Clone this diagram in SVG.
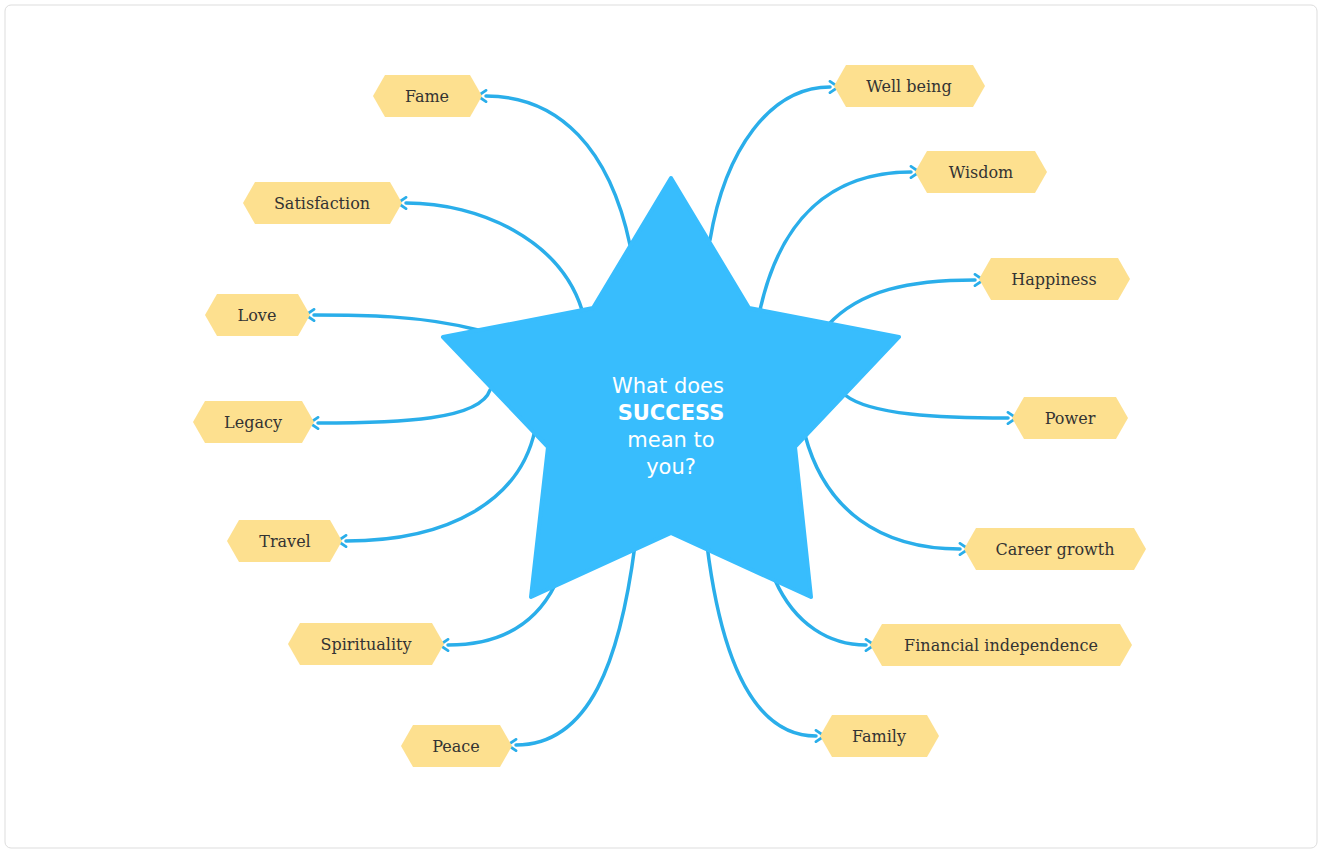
<svg xmlns="http://www.w3.org/2000/svg" width="1322" height="853" viewBox="0 0 1322 853">
<style>
.c{fill:none;stroke:#2AAEEA;stroke-width:3.5;stroke-linecap:round;marker-end:url(#a)}
.h{fill:#FDE08F}
.t{font-family:"DejaVu Serif","Liberation Serif",serif;font-size:16px;fill:#333;text-anchor:middle;dominant-baseline:central}
.s{font-family:"DejaVu Sans","Liberation Sans",sans-serif;font-size:21px;fill:#fff;text-anchor:middle}
</style>
<defs><marker id="a" viewBox="0 0 10 10" refX="2" refY="5" markerWidth="4" markerHeight="4" orient="auto-start-reverse" markerUnits="strokeWidth"><path d="M8,1 L2,5 L8,9" fill="none" stroke="#2AAEEA" stroke-width="2" stroke-linecap="round" transform="rotate(180 5 5)"/></marker></defs>
<rect x="5" y="5" width="1312" height="843" rx="6" fill="#fff" stroke="#ddd"/>
<g id="connectors">
<path class="c" d="M630,245 C610,150 560,96 486,96"/>
<path class="c" d="M582,310 C560,240 480,203 406,203"/>
<path class="c" d="M478,330 C420,315 360,315 314,315"/>
<path class="c" d="M490,390 C480,420 400,423 318,423"/>
<path class="c" d="M535,430 C520,500 450,541 346,541"/>
<path class="c" d="M555,585 C535,625 500,645 448,645"/>
<path class="c" d="M635,545 C620,660 590,745 516,745"/>
<path class="c" d="M710,240 C725,150 770,87 830,87"/>
<path class="c" d="M760,310 C780,220 830,172 911,172"/>
<path class="c" d="M828,325 C860,290 910,280 975,280"/>
<path class="c" d="M845,395 C870,415 940,418 1008,418"/>
<path class="c" d="M805,435 C825,510 880,549 960,549"/>
<path class="c" d="M775,580 C795,625 830,645 866,645"/>
<path class="c" d="M707,545 C720,650 750,736 816,736"/>
</g>
<g id="star">
<path d="M671,178 L749,308 L899,337 L795,447 L811,597 L671,533 L531,597 L548,447 L443,337 L593,308 Z" fill="#38BDFD" stroke="#38BDFD" stroke-width="4" stroke-linejoin="round"/>
<text class="s" x="668" y="393">What does</text>
<text class="s" x="671" y="420" font-weight="bold" fill="#FFEB5C">SUCCESS</text>
<text class="s" x="671" y="447">mean to</text>
<text class="s" x="671" y="474">you?</text>
</g>
<g id="fame"><polygon class="h" points="385,75 470,75 482,96 470,117 385,117 373,96"/><text class="t" x="427" y="96">Fame</text></g>
<g id="satisfaction"><polygon class="h" points="255,182 390,182 402,203 390,224 255,224 243,203"/><text class="t" x="322" y="203">Satisfaction</text></g>
<g id="love"><polygon class="h" points="217,294 298,294 310,315 298,336 217,336 205,315"/><text class="t" x="257" y="315">Love</text></g>
<g id="legacy"><polygon class="h" points="205,401 302,401 314,422 302,443 205,443 193,422"/><text class="t" x="253" y="422">Legacy</text></g>
<g id="travel"><polygon class="h" points="239,520 330,520 342,541 330,562 239,562 227,541"/><text class="t" x="285" y="541">Travel</text></g>
<g id="spirituality"><polygon class="h" points="300,623 432,623 444,644 432,665 300,665 288,644"/><text class="t" x="366" y="644">Spirituality</text></g>
<g id="peace"><polygon class="h" points="413,725 500,725 512,746 500,767 413,767 401,746"/><text class="t" x="456" y="746">Peace</text></g>
<g id="wellbeing"><polygon class="h" points="846,65 973,65 985,86 973,107 846,107 834,86"/><text class="t" x="909" y="86">Well being</text></g>
<g id="wisdom"><polygon class="h" points="927,151 1035,151 1047,172 1035,193 927,193 915,172"/><text class="t" x="981" y="172">Wisdom</text></g>
<g id="happiness"><polygon class="h" points="991,258 1118,258 1130,279 1118,300 991,300 979,279"/><text class="t" x="1054" y="279">Happiness</text></g>
<g id="power"><polygon class="h" points="1024,397 1116,397 1128,418 1116,439 1024,439 1012,418"/><text class="t" x="1070" y="418">Power</text></g>
<g id="career"><polygon class="h" points="976,528 1134,528 1146,549 1134,570 976,570 964,549"/><text class="t" x="1055" y="549">Career growth</text></g>
<g id="financial"><polygon class="h" points="882,624 1120,624 1132,645 1120,666 882,666 870,645"/><text class="t" x="1001" y="645">Financial independence</text></g>
<g id="family"><polygon class="h" points="832,715 927,715 939,736 927,757 832,757 820,736"/><text class="t" x="879" y="736">Family</text></g>
</svg>
